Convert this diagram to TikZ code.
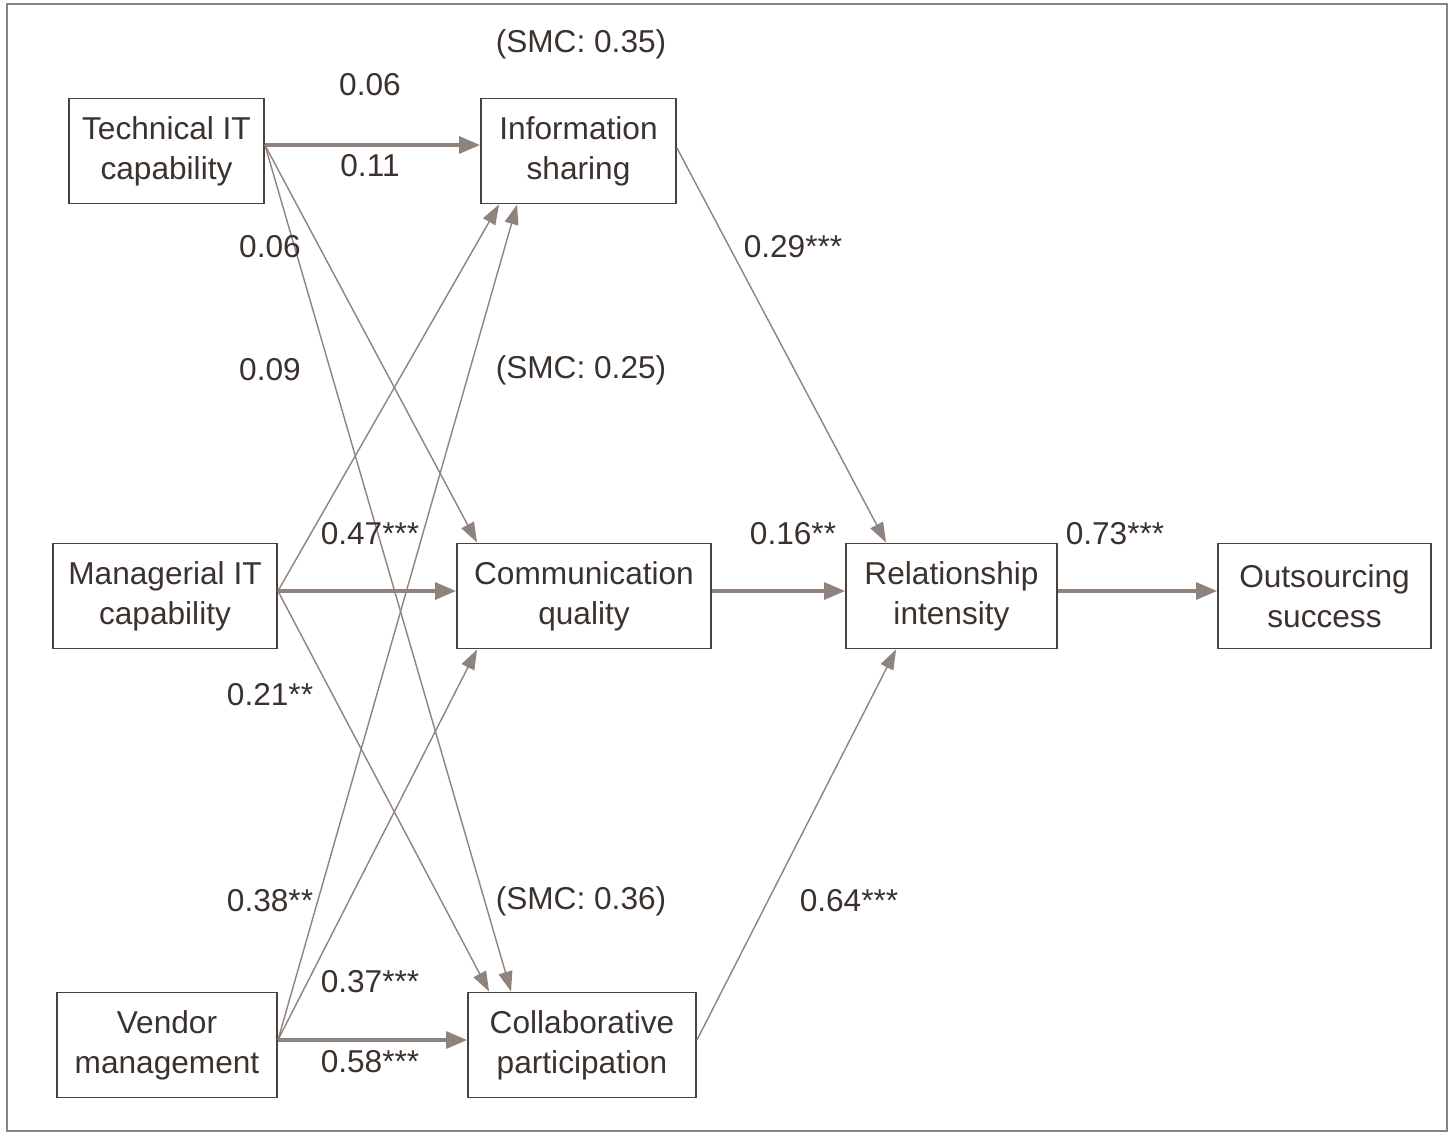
\documentclass[tikz,border=0pt]{standalone}
\usepackage{fontspec}
\setmainfont{Liberation Sans}
\usetikzlibrary{arrows.meta,calc}
\definecolor{linegray}{HTML}{8F837E}
\definecolor{boxline}{HTML}{4A403C}
\definecolor{textbrown}{HTML}{3B322E}
\definecolor{framegray}{HTML}{8A8280}

\begin{document}
\begin{tikzpicture}[x=0.02cm, y=-0.02cm,
	font=\fontsize{18}{22.7}\selectfont, text=textbrown,
	var/.style={draw=boxline, line width=1.1pt, align=center, inner sep=0pt, minimum height=2.1cm},
	link/.style={draw=linegray, line width=0.8pt, -{Triangle[length=0.4cm, width=0.28cm]}},
	mainlink/.style={link, line width=1.9pt, -{Triangle[length=0.42cm, width=0.34cm]}}]
	\useasboundingbox (0,0) rectangle (1455,1134);
	\draw[framegray, line width=1.5pt] (7,4) rectangle (1447,1131);
	% constructs
	\node[var, minimum width=3.9cm] (tech) at (166.5,151) {Technical IT\\capability};
	\node[var, minimum width=3.9cm] (info) at (578.5,151) {Information\\sharing};
	\node[var, minimum width=4.48cm] (man) at (165,596) {Managerial IT\\capability};
	\node[var, minimum width=5.08cm] (comm) at (584,596) {Communication\\quality};
	\node[var, minimum width=4.22cm] (rel) at (951.5,596) {Relationship\\intensity};
	\node[var, minimum width=4.26cm] (out) at (1324.5,596) {Outsourcing\\success};
	\node[var, minimum width=4.4cm] (vend) at (167,1045) {Vendor\\management};
	\node[var, minimum width=4.56cm] (coll) at (582,1045) {Collaborative\\participation};
	\coordinate (techOut) at ($(tech.east)+(0,-6)$);
	\coordinate (manOut) at ($(man.east)+(0,-5)$);
	\coordinate (vendOut) at ($(vend.east)+(0,-5)$);
	% paths
	\draw[mainlink] (techOut) -- (techOut -| info.west);
	\draw[link] (techOut) -- ($(comm.north west)+(21,0)$);
	\draw[link] (techOut) -- ($(coll.north west)+(44,0)$);
	\draw[link] (manOut) -- ($(info.south west)+(19,0)$);
	\draw[mainlink] (manOut) -- (manOut -| comm.west);
	\draw[link] (manOut) -- ($(coll.north west)+(22,0)$);
	\draw[link] (vendOut) -- ($(info.south west)+(37,0)$);
	\draw[link] (vendOut) -- ($(comm.south west)+(21,0)$);
	\draw[mainlink] (vendOut) -- (vendOut -| coll.west);
	\draw[link] ($(info.east)+(0,-3)$) -- ($(rel.north west)+(41,0)$);
	\draw[mainlink] (manOut -| comm.east) -- (manOut -| rel.west);
	\draw[link] ($(coll.east)+(0,-5)$) -- ($(rel.south west)+(51,0)$);
	\draw[mainlink] (manOut -| rel.east) -- (manOut -| out.west);
	% coefficients
	\node (smcInfo) at (581,44) {(SMC: 0.35)};
	\node (smcComm) at (581,370) {(SMC: 0.25)};
	\node (smcColl) at (581,901) {(SMC: 0.36)};
	\node (wTIa) at (370,85) {0.06};
	\node (wTIb) at (370,166) {0.11};
	\node (wTC) at (270,247) {0.06};
	\node (wTP) at (270,370) {0.09};
	\node (wIR) at (793,247) {0.29***};
	\node (wMI) at (370,534) {0.47***};
	\node (wCR) at (793,534) {0.16**};
	\node (wRO) at (1115,534) {0.73***};
	\node (wMP) at (270,695) {0.21**};
	\node (wVI) at (270,901) {0.38**};
	\node (wPR) at (849,901) {0.64***};
	\node (wVC) at (370,982) {0.37***};
	\node (wVP) at (370,1062) {0.58***};
\end{tikzpicture}
\end{document}
